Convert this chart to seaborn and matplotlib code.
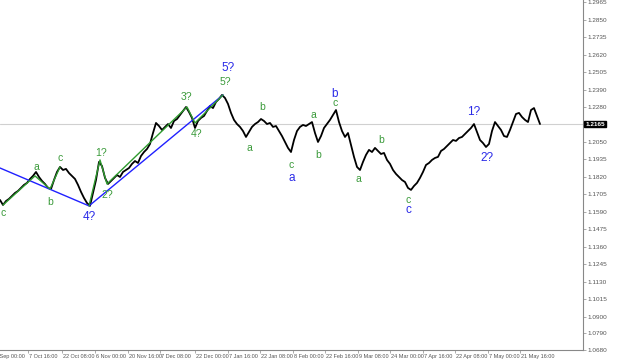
import numpy as np
import pandas as pd
import matplotlib
matplotlib.use("Agg")
import matplotlib.pyplot as plt
import seaborn as sns

# цена (H4), одна точка на каждые 9 баров
price = [
    1.1666, 1.1633, 1.1659, 1.1673, 1.1692, 1.1712, 1.1725, 1.1745, 1.1765, 1.1778,
    1.1804, 1.1824, 1.1850, 1.1817, 1.1791, 1.1771, 1.1745, 1.1738, 1.1797, 1.1850,
    1.1883, 1.1863, 1.1870, 1.1843, 1.1824, 1.1804, 1.1765, 1.1719, 1.1679, 1.1646,
    1.1627, 1.1712, 1.1797, 1.1916, 1.1889, 1.1811, 1.1771, 1.1791, 1.1811, 1.1830,
    1.1817, 1.1850, 1.1863, 1.1876, 1.1903, 1.1922, 1.1909, 1.1955, 1.1981, 1.2001,
    1.2034, 1.2106, 1.2172, 1.2152, 1.2126, 1.2146, 1.2165, 1.2139, 1.2185, 1.2198,
    1.2224, 1.2251, 1.2277, 1.2244, 1.2205, 1.2139, 1.2185, 1.2205, 1.2218, 1.2251,
    1.2284, 1.2270, 1.2310, 1.2330, 1.2356, 1.2336, 1.2297, 1.2238, 1.2192, 1.2165,
    1.2146, 1.2119, 1.2080, 1.2113, 1.2146, 1.2165, 1.2178, 1.2198, 1.2185, 1.2165,
    1.2172, 1.2146, 1.2152, 1.2119, 1.2086, 1.2047, 1.2008, 1.1981, 1.2060, 1.2119,
    1.2146, 1.2159, 1.2152, 1.2165, 1.2178, 1.2106, 1.2047, 1.2086, 1.2139, 1.2165,
    1.2192, 1.2224, 1.2257, 1.2178, 1.2119, 1.2080, 1.2106, 1.2027, 1.1949, 1.1883,
    1.1863, 1.1916, 1.1962, 1.1995, 1.1981, 1.2008, 1.1988, 1.1968, 1.1975, 1.1929,
    1.1903, 1.1863, 1.1837, 1.1817, 1.1797, 1.1784, 1.1745, 1.1732, 1.1758, 1.1778,
    1.1811, 1.1850, 1.1896, 1.1909, 1.1929, 1.1942, 1.1949, 1.1988, 1.2001, 1.2021,
    1.2040, 1.2060, 1.2054, 1.2073, 1.2080, 1.2100, 1.2119, 1.2139, 1.2165, 1.2113,
    1.2060, 1.2040, 1.2014, 1.2034, 1.2119, 1.2178, 1.2152, 1.2126, 1.2086, 1.2080,
    1.2126, 1.2178, 1.2231, 1.2238, 1.2211, 1.2192, 1.2178, 1.2257, 1.2270, 1.2218,
    1.2165,
]
bar = [i * 9 for i in range(len(price))]

# волновая разметка
blue_bar = [0, 267, 669]
blue_price = [1.1876, 1.1627, 1.2356]
green_bar = [9, 105, 150, 180]
green_price = [1.1633, 1.1824, 1.1738, 1.1883]
green2_bar = [267, 300, 321, 561, 585, 669]
green2_price = [1.1627, 1.1929, 1.1771, 1.2277, 1.2172, 1.2356]

green_labels = ["c", "a", "b", "c", "1?", "2?", "3?", "4?", "5?", "a", "b", "c",
                "a", "b", "c", "a", "b", "c"]
green_lab_bar = [9, 108, 150, 180, 303, 321, 558, 591, 675, 747, 786, 873,
                 939, 954, 1005, 1074, 1143, 1224]
green_lab_price = [1.1580, 1.1882, 1.1650, 1.1940, 1.1975, 1.1700, 1.2345, 1.2100,
                   1.2440, 1.2010, 1.2275, 1.1895, 1.2225, 1.1960, 1.2300, 1.1805,
                   1.2060, 1.1665]
blue_labels = ["4?", "5?", "a", "b", "c", "1?", "2?"]
blue_lab_bar = [267, 684, 876, 1005, 1224, 1422, 1461]
blue_lab_price = [1.1555, 1.2530, 1.1810, 1.2365, 1.1600, 1.2245, 1.1940]

x_ticks = [-27, 84, 186, 285, 384, 480, 585, 684, 780, 879, 975, 1074, 1170,
           1269, 1365, 1464, 1560]
x_labels = ["23 Sep 00:00", "7 Oct 16:00", "22 Oct 08:00", "6 Nov 00:00",
            "20 Nov 16:00", "7 Dec 08:00", "22 Dec 00:00", "7 Jan 16:00",
            "22 Jan 08:00", "8 Feb 00:00", "22 Feb 16:00", "9 Mar 08:00",
            "24 Mar 00:00", "7 Apr 16:00", "22 Apr 08:00", "7 May 00:00",
            "21 May 16:00"]
y_ticks = [1.0680, 1.0790, 1.0900, 1.1015, 1.1130, 1.1245, 1.1360, 1.1475,
           1.1590, 1.1705, 1.1820, 1.1935, 1.2050, 1.2280, 1.2390, 1.2505,
           1.2620, 1.2735, 1.2850, 1.2965]

sns.set_style("white")
plt.rcParams['font.family'] = ['Liberation Sans', 'DejaVu Sans']

fig = plt.figure(figsize=(6.2, 3.61), dpi=100)
ax = fig.add_axes([0, 11 / 361, 583 / 620, 350 / 361])

df = pd.DataFrame({"bar": bar, "price": price})
sns.lineplot(data=df, x="bar", y="price", color="black", linewidth=1.3, ax=ax)
sns.lineplot(x=blue_bar, y=blue_price, color="#2020ff", linewidth=1.0, ax=ax)
sns.lineplot(x=green_bar, y=green_price, color="#2e9a2e", linewidth=1.0, ax=ax)
sns.lineplot(x=green2_bar, y=green2_price, color="#2e9a2e", linewidth=1.0, ax=ax)

for t, xb, yp in zip(green_labels, green_lab_bar, green_lab_price):
    ax.text(xb, yp, t, color="#3a9a3a", fontsize=7.5, ha="center", va="center")
for t, xb, yp in zip(blue_labels, blue_lab_bar, blue_lab_price):
    ax.text(xb, yp, t, color="#2a2ae8", fontsize=8.5, ha="center", va="center")

last = price[-1]
ax.axhline(last, color="#d0d0d0", linewidth=0.8, zorder=0)

ax.set_xlim(0, 1749)
ax.set_ylim(1.0680, 1.2980)
ax.set_xlabel("")
ax.set_ylabel("")

for s in ["left", "top"]:
    ax.spines[s].set_visible(False)
for s in ["right", "bottom"]:
    ax.spines[s].set_color("#888888")
    ax.spines[s].set_linewidth(0.8)

ax.yaxis.tick_right()
ax.set_yticks(y_ticks)
ax.set_yticklabels([f"{v:.4f}" for v in y_ticks])
ax.set_xticks([t for t in x_ticks if t >= 0])
ax.set_xticklabels([])
ax.tick_params(axis="y", labelsize=4.6, labelcolor="#555555", length=2,
               width=0.5, color="#888888", pad=1.5, direction="out", right=True)
ax.tick_params(axis="x", length=2, width=0.5, color="#888888", direction="out",
               bottom=True)
for t, lab in zip(x_ticks, x_labels):
    ax.text(t + 3, -0.012, lab, transform=ax.get_xaxis_transform(),
            fontsize=4.0, color="#555555", ha="left", va="top", clip_on=False)

ax.text(1.004, last, f"{last:.4f}", transform=ax.get_yaxis_transform(),
        fontsize=4.6, color="white", ha="left", va="center", fontweight="bold",
        bbox=dict(boxstyle="square,pad=0.15", fc="black", ec="black"))

fig.savefig("out.png", dpi=100)
